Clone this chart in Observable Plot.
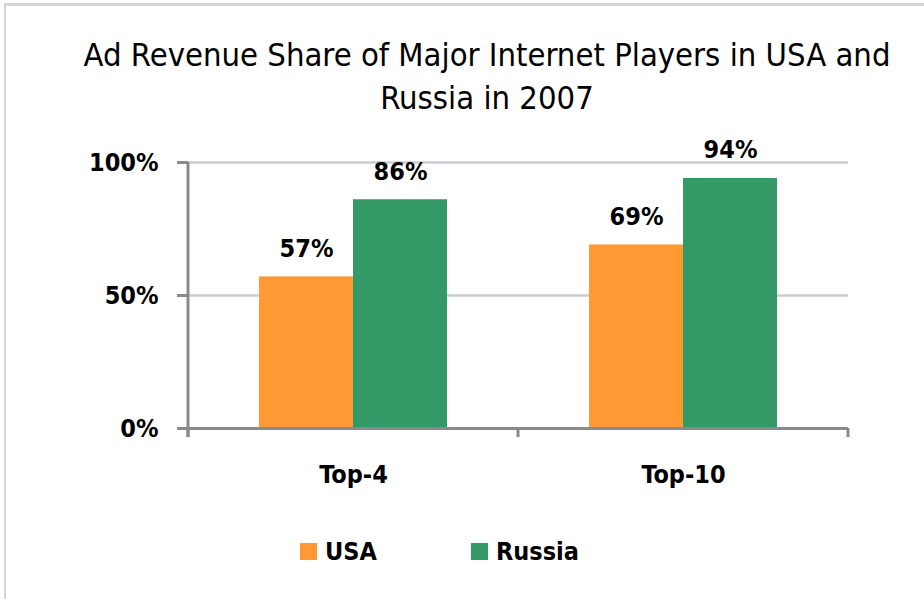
<!DOCTYPE html>
<html>
<head>
<meta charset="utf-8">
<script src="https://cdn.jsdelivr.net/npm/d3@7"></script>
<script src="https://cdn.jsdelivr.net/npm/@observablehq/plot@0.6"></script>
<style>
  html, body { margin: 0; padding: 0; background: #fff; }
  #wrap { position: relative; width: 924px; height: 599px; overflow: hidden;
          font-family: 'Liberation Sans Narrow', 'Arial Narrow', 'DejaVu Sans Condensed', sans-serif; }
  #border { position: absolute; left: 4px; top: 3px; right: 0; bottom: 0;
            border-top: 3px solid #d3d5db; border-left: 2px solid #d3d5db; }
  #title { position: absolute; left: 50px; width: 874px; top: 34px; text-align: center;
           font-size: 32.5px; line-height: 43px; color: #000; }
  #chart { position: absolute; left: 0; top: 0; }
  #legend { position: absolute; top: 537px; left: 0; width: 924px; height: 30px; }
  .lg { position: absolute; top: 0; display: flex; align-items: center; height: 28px;
        font-weight: bold; font-size: 25px; color: #000; }
  .sw { width: 17px; height: 17px; margin-right: 8px; }
</style>
</head>
<body>
<div id="wrap">
  <div id="border"></div>
  <div id="chart"></div>
  <div id="title">Ad Revenue Share of Major Internet Players in USA and<br>Russia in 2007</div>
  <div id="legend"></div>
</div>
<script>
const groups = ["Top-4", "Top-10"];
const series = ["USA", "Russia"];
const usaValues = [0.57, 0.69];
const russiaValues = [0.86, 0.94];
const yTicks = [0, 0.5, 1];
const seriesColors = ["#FF9933", "#339966"];
const legendX = [300, 471];

const data = groups.flatMap((g, i) => [
  {group: g, series: "USA", value: usaValues[i]},
  {group: g, series: "Russia", value: russiaValues[i]}
]);

const font = "'Liberation Sans Narrow', 'Arial Narrow', 'DejaVu Sans Condensed', sans-serif";

const plot = Plot.plot({
  width: 924,
  height: 599,
  marginLeft: 188,
  marginRight: 76,
  marginTop: 162,
  marginBottom: 171,
  style: {fontFamily: font, background: "transparent"},
  fx: {domain: groups, padding: 0, label: null},
  x: {domain: series, paddingInner: 0, paddingOuter: 0.737, axis: null},
  y: {domain: [0, 1], axis: null, label: null},
  color: {domain: series, range: seriesColors},
  marks: [
    Plot.gridY(yTicks.filter(d => d > 0), {stroke: "#c9ccd3", strokeWidth: 2.5, strokeOpacity: 1}),
    Plot.barY(data, {fx: "group", x: "series", y: "value", fill: "series"}),
    Plot.ruleY([0], {stroke: "#8a8a8a", strokeWidth: 3}),
    Plot.text(data, {fx: "group", x: "series", y: "value",
      text: d => Math.round(d.value * 100) + "%", dy: -28,
      fontSize: 25, fontWeight: "bold", fill: "#000"}),
    Plot.axisY({ticks: yTicks, tickFormat: d => Math.round(d * 100) + "%", label: null,
      tickSize: 11, tickPadding: 19, fontSize: 25, fontWeight: "bold",
      stroke: "#8a8a8a", strokeWidth: 3, color: "#000"}),
    Plot.axisFx({anchor: "bottom", tickSize: 0, tickPadding: 37, fontSize: 25,
      fontWeight: "bold", color: "#000", label: null})
  ]
});

document.getElementById("chart").appendChild(plot);

// axis line and category-boundary ticks from the library's scales
const fxs = plot.scale("fx");
const ys = plot.scale("y");
const svg = d3.select(plot);
const edges = [...fxs.domain.map(d => fxs.apply(d)), fxs.range[1]];
const y0 = ys.apply(0), y1 = ys.apply(1);
const g = svg.append("g").attr("stroke", "#8a8a8a").attr("stroke-width", 3);
g.append("line").attr("x1", edges[0]).attr("x2", edges[0]).attr("y1", y1).attr("y2", y0 + 9);
edges.forEach(x => g.append("line").attr("x1", x).attr("x2", x).attr("y1", y0).attr("y2", y0 + 9));

// legend
const legend = document.getElementById("legend");
series.forEach((s, i) => {
  const item = document.createElement("div");
  item.className = "lg";
  item.style.left = legendX[i] + "px";
  const sw = document.createElement("div");
  sw.className = "sw";
  sw.style.background = seriesColors[i];
  item.appendChild(sw);
  item.appendChild(document.createTextNode(s));
  legend.appendChild(item);
});
</script>
</body>
</html>
